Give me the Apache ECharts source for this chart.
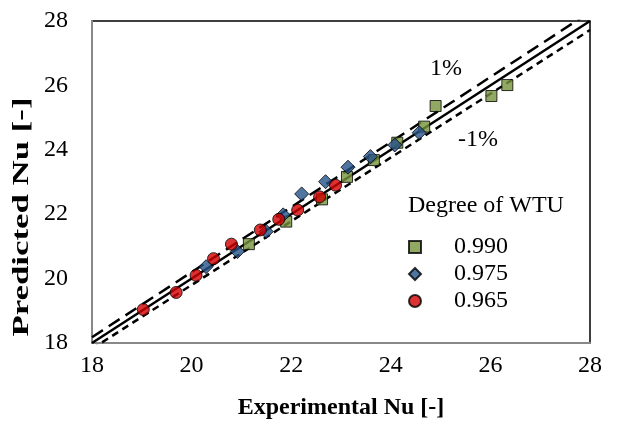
<!DOCTYPE html>
<html>
<head>
<meta charset="utf-8">
<script src="https://cdn.jsdelivr.net/npm/echarts@6/dist/echarts.min.js"></script>
<style>
  html, body { margin: 0; padding: 0; background: #fff; }
  #chart { width: 626px; height: 429px; }
</style>
</head>
<body>
<div id="chart"></div>
<script>
// Degree of WTU 0.990 (squares)
const x990 = [26.34, 26.02, 24.90, 24.67, 24.13, 23.66, 23.12, 22.62, 21.90, 21.15];
const y990 = [26.01, 25.67, 25.36, 24.72, 24.22, 23.68, 23.16, 22.46, 21.77, 21.07];
// 0.975 (diamonds)
const x975 = [24.57, 24.08, 23.59, 23.14, 22.69, 22.21, 21.84, 21.50, 20.92, 20.29];
const y975 = [24.53, 24.15, 23.79, 23.46, 23.01, 22.63, 21.98, 21.46, 20.84, 20.37];
// 0.965 (circles)
const x965 = [22.89, 22.57, 22.13, 21.75, 21.38, 20.80, 20.44, 20.09, 19.69, 19.03];
const y965 = [22.90, 22.54, 22.13, 21.84, 21.51, 21.07, 20.62, 20.10, 19.57, 19.04];

const seriesNames = ["0.990", "0.975", "0.965"];
const axisMin = 18, axisMax = 28, axisStep = 2;
const lineEnds = [18, 28];   // ends of the y = x line and the ±1% band

const font = "'Liberation Serif', 'Times New Roman', serif";

const pairs = (xs, ys) => xs.map((x, i) => [x, ys[i]]);

const chart = echarts.init(document.getElementById("chart"));

const option = {
  animation: false,
  grid: {
    left: 92, right: 36, top: 21, bottom: 86,
    show: true,
    borderColor: "#000",
    borderWidth: 1.5
  },
  xAxis: {
    type: "value",
    min: axisMin, max: axisMax, interval: axisStep,
    axisLine: { show: true, lineStyle: { color: "#888", width: 2 } },
    axisTick: { show: false },
    splitLine: { show: false },
    axisLabel: { fontFamily: font, fontSize: 24, color: "#000", margin: 11 },
    name: "Experimental Nu [-]",
    nameLocation: "middle",
    nameGap: 53,
    nameTextStyle: { fontFamily: font, fontSize: 24, fontWeight: "bold", color: "#000" }
  },
  yAxis: {
    type: "value",
    min: axisMin, max: axisMax, interval: axisStep,
    axisLine: { show: true, lineStyle: { color: "#888", width: 2 } },
    axisTick: { show: false },
    splitLine: { show: false },
    axisLabel: { fontFamily: font, fontSize: 24, color: "#000", margin: 24 }
  },
  graphic: [
    {
      // y title is stretched along its length in the source picture
      type: "text",
      x: 22, y: 217,
      rotation: Math.PI / 2,
      scaleX: 1.45,
      style: {
        text: "Predicted Nu [-]",
        font: "bold 24px " + font,
        fill: "#000",
        align: "center",
        verticalAlign: "middle"
      }
    },
    {
      type: "text",
      left: 408, top: 194,
      style: { text: "Degree of WTU", font: "24px " + font, fill: "#000" }
    },
    {
      type: "text",
      left: 430, top: 57,
      style: { text: "1%", font: "24px " + font, fill: "#000" }
    },
    {
      type: "text",
      left: 458, top: 128,
      style: { text: "-1%", font: "24px " + font, fill: "#000" }
    }
  ],
  legend: {
    orient: "vertical",
    left: 403,
    top: 230,
    itemWidth: 12,
    itemHeight: 12,
    itemGap: 3,
    data: seriesNames,
    textStyle: { fontFamily: font, fontSize: 24, color: "#000", padding: [0, 0, 0, 28], lineHeight: 24 }
  },
  series: [
    {
      type: "line",
      data: lineEnds.map(x => [x, x]),
      showSymbol: false,
      clip: true,
      lineStyle: { color: "#000", width: 2.5 },
      z: 2
    },
    {
      type: "line",
      data: lineEnds.map(x => [x, x * 1.01]),
      showSymbol: false,
      clip: true,
      lineStyle: { color: "#000", width: 2.5, type: [13, 7] },
      z: 2
    },
    {
      type: "line",
      data: lineEnds.map(x => [x, x * 0.99]),
      showSymbol: false,
      clip: true,
      lineStyle: { color: "#000", width: 2.5, type: [7, 5] },
      z: 2
    },
    {
      name: seriesNames[0],
      type: "scatter",
      symbol: "rect",
      symbolSize: 11,
      data: pairs(x990, y990),
      itemStyle: { color: "#77933C", borderColor: "#000", borderWidth: 1 },
      z: 3
    },
    {
      name: seriesNames[1],
      type: "scatter",
      symbol: "diamond",
      symbolSize: 14,
      data: pairs(x975, y975),
      itemStyle: { color: "#25528A", borderColor: "#000", borderWidth: 1 },
      z: 4
    },
    {
      name: seriesNames[2],
      type: "scatter",
      symbol: "circle",
      symbolSize: 12,
      data: pairs(x965, y965),
      itemStyle: { color: "#D20000", borderColor: "#000", borderWidth: 1 },
      z: 5
    }
  ]
};

chart.setOption(option);
</script>
</body>
</html>
